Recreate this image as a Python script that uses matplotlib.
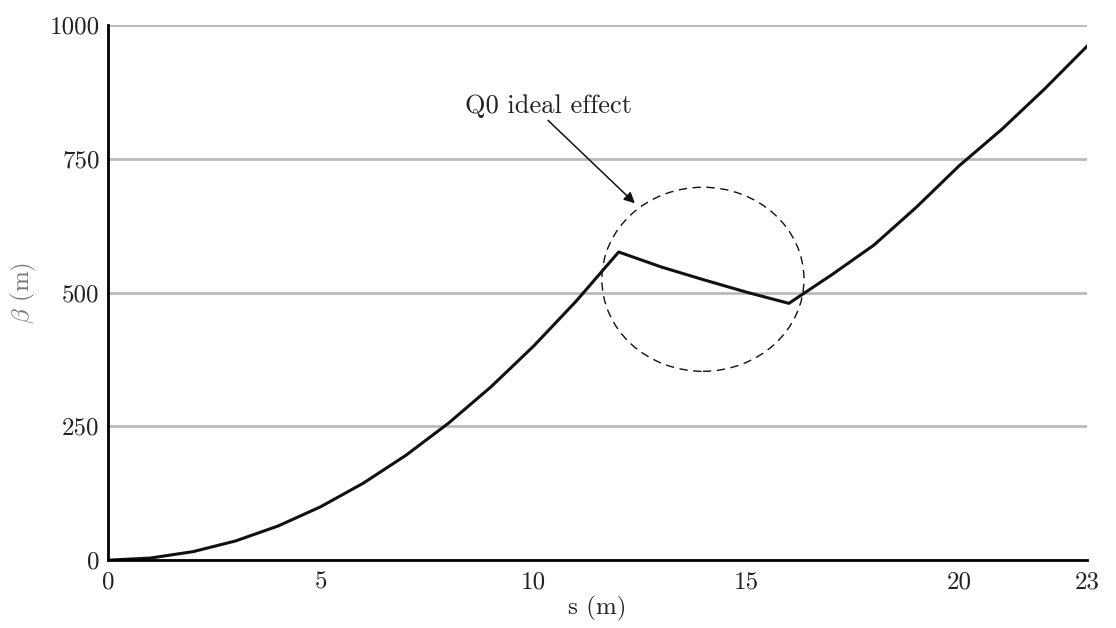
import matplotlib
matplotlib.use('Agg')
import matplotlib.pyplot as plt
from matplotlib.patches import Ellipse

plt.rcParams['font.family'] = 'serif'
plt.rcParams['font.serif'] = ['cmr10']
plt.rcParams['mathtext.fontset'] = 'cm'
plt.rcParams['axes.unicode_minus'] = False
plt.rcParams['axes.formatter.use_mathtext'] = True

# s (m) and beta (m)
s = [0, 1, 2, 3, 4, 5, 6, 7, 8, 9, 10, 11, 12, 13, 14, 15, 16, 17, 18, 19, 20, 21, 22, 23]
beta = [0, 4, 16, 36, 64, 100, 144, 196, 256, 324, 400, 484, 576,
        548, 524, 501, 480, 533, 589, 660, 737, 805, 880, 960]

xticks = [0, 5, 10, 15, 20, 23]
yticks = [0, 250, 500, 750, 1000]

fig = plt.figure(figsize=(11.16, 6.28), dpi=100)
ax = fig.add_axes([0.0968, 0.108, 0.877, 0.852])

ax.plot(s, beta, color='#111111', lw=2.2, zorder=3)

ax.set_xlim(0, 23)
ax.set_ylim(0, 1000)
ax.set_xticks(xticks)
ax.set_yticks(yticks)
ax.set_xticklabels([str(t) for t in xticks])
ax.set_yticklabels([str(t) for t in yticks])
ax.tick_params(length=0, labelsize=18, labelcolor='#222222')
ax.tick_params(axis='x', pad=8)
ax.tick_params(axis='y', pad=6)

ax.grid(axis='y', color='#bbbbbb', lw=2)
ax.set_axisbelow(True)
for side in ['top', 'right']:
    ax.spines[side].set_visible(False)
for side in ['left', 'bottom']:
    ax.spines[side].set_color('black')
    ax.spines[side].set_linewidth(2)
    ax.spines[side].set_zorder(4)

ax.set_xlabel('s (m)', fontsize=18, color='#222222', labelpad=2)
ax.set_ylabel(r'$\beta$ (m)', fontsize=18, color='#777777', labelpad=8)

# dashed circle around the Q0 region
circ = Ellipse((13.98, 525), 4.75, 344, fill=False, ls=(0, (6, 4)),
               lw=1.0, color='#111111', zorder=2)
ax.add_patch(circ)

ax.text(10.34, 849, 'Q0 ideal effect', fontsize=19, color='#222222',
        ha='center', va='center')
ax.annotate('', xy=(12.38, 667), xytext=(10.34, 822),
            arrowprops=dict(arrowstyle='-|>', color='#111111', lw=1.1,
                            mutation_scale=16, shrinkA=0, shrinkB=0))

fig.savefig('out.png', dpi=100)
